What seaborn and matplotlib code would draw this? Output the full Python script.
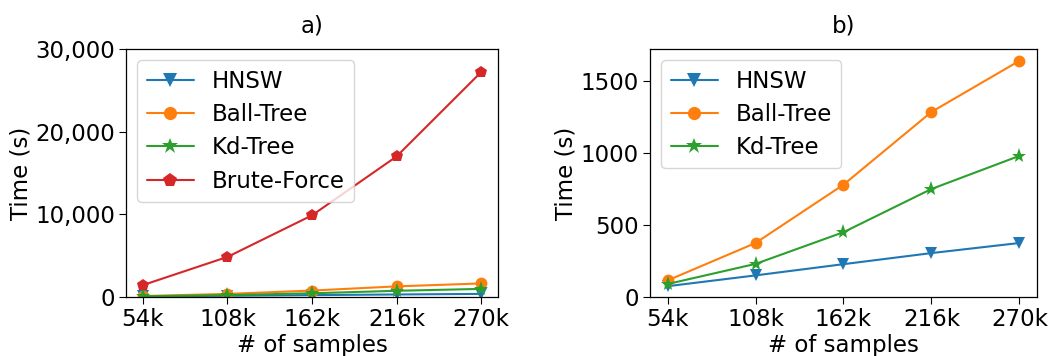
import pandas as pd
import matplotlib
matplotlib.use("Agg")
import matplotlib.pyplot as plt
import seaborn as sns
from matplotlib.ticker import FuncFormatter

# === DATA ===
samples = [54, 108, 162, 216, 270]
tick_labels = ["54k", "108k", "162k", "216k", "270k"]
hnsw = [75, 150, 228, 305, 375]
ball_tree = [115, 375, 780, 1285, 1640]
kd_tree = [90, 230, 450, 750, 980]
brute_force = [1440, 4850, 9880, 17000, 27200]

methods = ["HNSW", "Ball-Tree", "Kd-Tree", "Brute-Force"]
series = {"HNSW": hnsw, "Ball-Tree": ball_tree, "Kd-Tree": kd_tree, "Brute-Force": brute_force}

rows = []
for m in methods:
    for x, y in zip(samples, series[m]):
        rows.append({"samples": x, "time": y, "method": m})
df = pd.DataFrame(rows)

# === STYLE ===
sns.set_style("ticks")
plt.rcParams['font.family'] = ['DejaVu Sans']
for k in ["text.color", "axes.labelcolor", "xtick.color", "ytick.color"]:
    plt.rcParams[k] = "black"
palette = {"HNSW": "#1f77b4", "Ball-Tree": "#ff7f0e", "Kd-Tree": "#2ca02c", "Brute-Force": "#d62728"}
markers = {"HNSW": "v", "Ball-Tree": "o", "Kd-Tree": "*", "Brute-Force": "p"}
msize = {"v": 9, "o": 8.5, "*": 11, "p": 9}

fig = plt.figure(figsize=(10.62, 3.56), dpi=100)
W, H = 1062, 356
ax_a = fig.add_axes([126 / W, 59 / H, 372 / W, 248 / H])
ax_b = fig.add_axes([650 / W, 59 / H, 387 / W, 248 / H])


def draw(ax, names, title):
    sub = df[df["method"].isin(names)]
    sns.lineplot(data=sub, x="samples", y="time", hue="method", style="method",
                 hue_order=names, style_order=names, palette=palette,
                 markers=markers, dashes=False, linewidth=1.5,
                 markeredgewidth=0, ax=ax)
    for line in ax.lines:
        if line.get_marker() in msize:
            line.set_markersize(msize[line.get_marker()])
    ax.set_xticks(samples)
    ax.set_xticklabels(tick_labels)
    ax.set_xlabel("# of samples", fontsize=16.5, labelpad=2)
    ax.set_ylabel("Time (s)", fontsize=16.5, labelpad=2)
    ax.set_title(title, fontsize=16.5, pad=12)
    ax.tick_params(labelsize=16.5, length=5, color="black", pad=3)
    ax.margins(x=0.05)
    for s in ax.spines.values():
        s.set_color("black")
        s.set_linewidth(0.9)
    leg = ax.legend(fontsize=16.5, loc="upper left", handlelength=2.05, borderpad=0.4,
                    labelspacing=0.45, handletextpad=0.8)
    for h in leg.legend_handles:
        h.set_markeredgewidth(0)
        h.set_markersize(msize.get(h.get_marker(), 9) + 1)


draw(ax_a, methods, "a)")
ax_a.set_ylim(0, 30000)
ax_a.set_yticks([0, 10000, 20000, 30000])
ax_a.yaxis.set_major_formatter(FuncFormatter(lambda v, p: f"{int(v):,}"))

draw(ax_b, methods[:3], "b)")
ax_b.set_ylim(0, 1722)
ax_b.set_yticks([0, 500, 1000, 1500])

fig.savefig("out.png", dpi=100)
